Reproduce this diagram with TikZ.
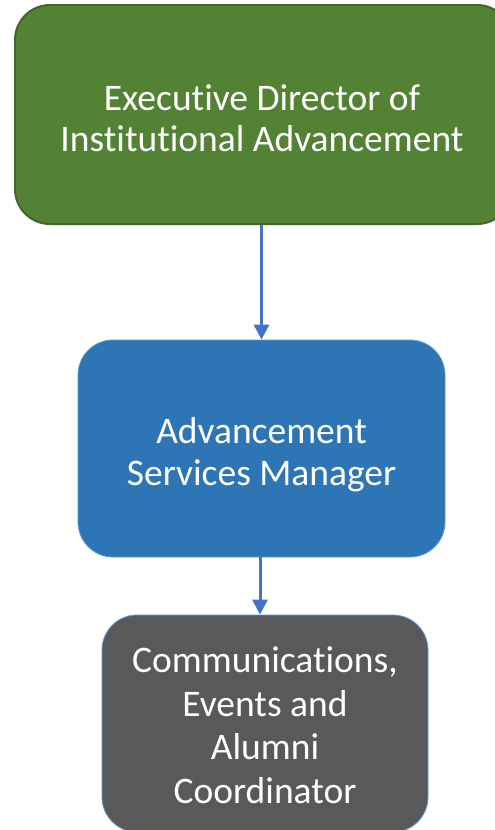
\documentclass[tikz,border=0pt]{standalone}
\usepackage{fontspec}
\setmainfont{Carlito}[Ligatures={NoCommon,NoContextual}]
\usetikzlibrary{arrows.meta}
\definecolor{leadgreen}{HTML}{548235}
\definecolor{leadedge}{HTML}{41652A}
\definecolor{mgrblue}{HTML}{2E75B6}
\definecolor{paleedge}{HTML}{5B9BD5}
\definecolor{staffgray}{HTML}{595959}
\definecolor{linkblue}{HTML}{4472C4}
\begin{document}
\begin{tikzpicture}[x=1pt,y=-1pt,
  orgbox/.style={rectangle, rounded corners=35pt, inner sep=0pt},
  boxlabel/.style={text=white, align=center, inner sep=0pt},
  link/.style={draw=linkblue, line width=3pt,
    -{Triangle[length=15pt,width=15pt]}}]
\useasboundingbox (0,0) rectangle (495,830);
\clip (0,0) rectangle (495,830);
\fill[white] (0,0) rectangle (495,830);

% top level
\node[orgbox, fill=leadgreen, draw=leadedge, line width=2pt,
  minimum width=497pt, minimum height=219pt] (exec) at (263.5,114.5) {};
\node[boxlabel, font=\fontsize{37.5}{41}\selectfont] (execlabel)
  at ([xshift=-1.5pt,yshift=-4pt]exec.center)
  {Executive Director of\\Institutional Advancement};

% middle level
\node[orgbox, fill=mgrblue, draw=paleedge, line width=0.8pt,
  minimum width=367pt, minimum height=217pt] (asm) at (261.5,448.5) {};
\node[boxlabel, font=\fontsize{37.5}{42}\selectfont] (asmlabel)
  at ([yshift=-6pt]asm.center)
  {Advancement\\Services Manager};

% bottom level
\node[orgbox, fill=staffgray, draw=paleedge, line width=0.8pt,
  minimum width=326pt, minimum height=217pt] (ceac) at (265,723.5) {};
\node[boxlabel, font=\fontsize{37.5}{43.5}\selectfont] (ceaclabel)
  at ([yshift=-1.5pt]ceac.center)
  {Communications,\\Events and\\Alumni\\Coordinator};

% reporting lines
\draw[link] (exec.south -| asm.north) -- (asm.north);
\draw[link] ([xshift=-1.5pt]asm.south) -- ([xshift=-1.5pt]asm.south |- ceac.north);
\end{tikzpicture}
\end{document}
